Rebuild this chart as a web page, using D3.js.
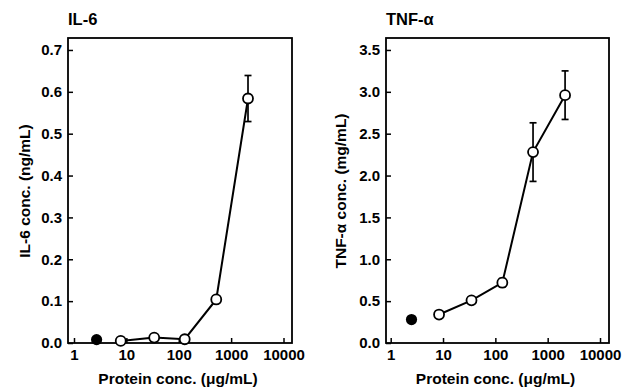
<!DOCTYPE html>
<html><head><meta charset="utf-8">
<script src="https://cdn.jsdelivr.net/npm/d3@7"></script>
<style>body{margin:0;background:#fff}svg{display:block;font-family:"Liberation Sans",Arial,sans-serif}</style>
</head><body><svg id="c" width="623" height="389"></svg>
<script>
// Data
const il6Control = [{x: 2.7, y: 0.008}];
const il6X = [7.8, 34, 130, 520, 2100];
const il6Y = [0.005, 0.013, 0.009, 0.104, 0.584];
const il6Err = [0, 0, 0, 0.004, 0.055];
const tnfControl = [{x: 2.5, y: 0.28}];
const tnfX = [8.4, 35, 136, 525, 2150];
const tnfY = [0.34, 0.51, 0.72, 2.28, 2.96];
const tnfErr = [0, 0, 0.05, 0.35, 0.29];
const xTicks = [1, 10, 100, 1000, 10000];
const il6Ticks = [0.0, 0.1, 0.2, 0.3, 0.4, 0.5, 0.6, 0.7];
const tnfTicks = [0.0, 0.5, 1.0, 1.5, 2.0, 2.5, 3.0, 3.5];

const svg = d3.select("#c");

function panel(o){
  const g = svg.append("g");
  const x = d3.scaleLog().domain([o.xmin, o.xmax]).range([o.left, o.right]);
  const y = d3.scaleLinear().domain([0, o.ymax]).range([o.bottom, o.top]);
  g.append("rect").attr("x", o.left).attr("y", o.top).attr("width", o.right-o.left).attr("height", o.bottom-o.top)
    .attr("fill","none").attr("stroke","#000").attr("stroke-width",1.8);
  const xa = g.append("g").attr("transform",`translate(0,${o.bottom})`)
    .call(d3.axisBottom(x).tickValues(xTicks).tickFormat(d3.format("d")).tickSizeInner(-5).tickSizeOuter(0).tickPadding(6));
  const ya = g.append("g").attr("transform",`translate(${o.left},0)`)
    .call(d3.axisLeft(y).tickValues(o.yTicks).tickFormat(d3.format(".1f")).tickSizeInner(-5).tickSizeOuter(0).tickPadding(6));
  [xa, ya].forEach(a=>{
    a.select(".domain").remove();
    a.selectAll(".tick line").attr("stroke","#000").attr("stroke-width",1.5);
    a.selectAll("text").attr("fill","#000").attr("font-size",15).attr("font-weight","bold").attr("font-family","'Liberation Sans',Arial,sans-serif");
  });
  g.append("text").attr("x", o.left).attr("y", 25).text(o.title)
    .attr("font-size",16.5).attr("font-weight","bold");
  g.append("text").attr("x", (o.left+o.right)/2 - 2).attr("y", 384).attr("text-anchor","middle")
    .text("Protein conc. (μg/mL)").attr("font-size",15.5).attr("font-weight","bold");
  g.append("text").attr("transform",`translate(${o.ylabX},${o.ylabY}) rotate(-90)`)
    .attr("text-anchor","middle").text(o.ylabel).attr("font-size",15.5).attr("font-weight","bold");
  const pts = o.xs.map((v,i)=>({x:v, y:o.ys[i], e:o.errs[i]}));
  pts.filter(d=>d.e>0.01).forEach(d=>{
    const cx = x(d.x);
    g.append("line").attr("x1",cx).attr("x2",cx).attr("y1",y(d.y+d.e)).attr("y2",y(d.y-d.e)).attr("stroke","#000").attr("stroke-width",1.7);
    [d.y+d.e, d.y-d.e].forEach(v=>g.append("line").attr("x1",cx-3.5).attr("x2",cx+3.5).attr("y1",y(v)).attr("y2",y(v)).attr("stroke","#000").attr("stroke-width",1.7));
  });
  g.append("path").datum(pts).attr("d", d3.line().x(d=>x(d.x)).y(d=>y(d.y)))
    .attr("fill","none").attr("stroke","#000").attr("stroke-width",2);
  g.selectAll("circle.o").data(pts).join("circle").attr("cx",d=>x(d.x)).attr("cy",d=>y(d.y)).attr("r",5)
    .attr("fill","#fff").attr("stroke","#000").attr("stroke-width",1.8);
  g.selectAll("circle.f").data(o.control).join("circle").attr("cx",d=>x(d.x)).attr("cy",d=>y(d.y)).attr("r",5.6)
    .attr("fill","#000");
}

const decade = 52.4;
panel({left:68, right:292, top:38, bottom:343, xmin: Math.pow(10, -6/decade), xmax: Math.pow(10, 4 + 8.5/decade),
  ymax: 0.7 + 12/420, yTicks: il6Ticks, title:"IL-6", ylabel:"IL-6 conc. (ng/mL)", ylabX:30, ylabY:191,
  xs: il6X, ys: il6Y, errs: il6Err, control: il6Control});
panel({left:386, right:609, top:38, bottom:343, xmin: Math.pow(10, -4.7/decade), xmax: Math.pow(10, 4 + 9/decade),
  ymax: 3.5 + 12/84, yTicks: tnfTicks, title:"TNF-α", ylabel:"TNF-α conc. (mg/mL)", ylabX:346, ylabY:191,
  xs: tnfX, ys: tnfY, errs: tnfErr, control: tnfControl});
</script></body></html>
